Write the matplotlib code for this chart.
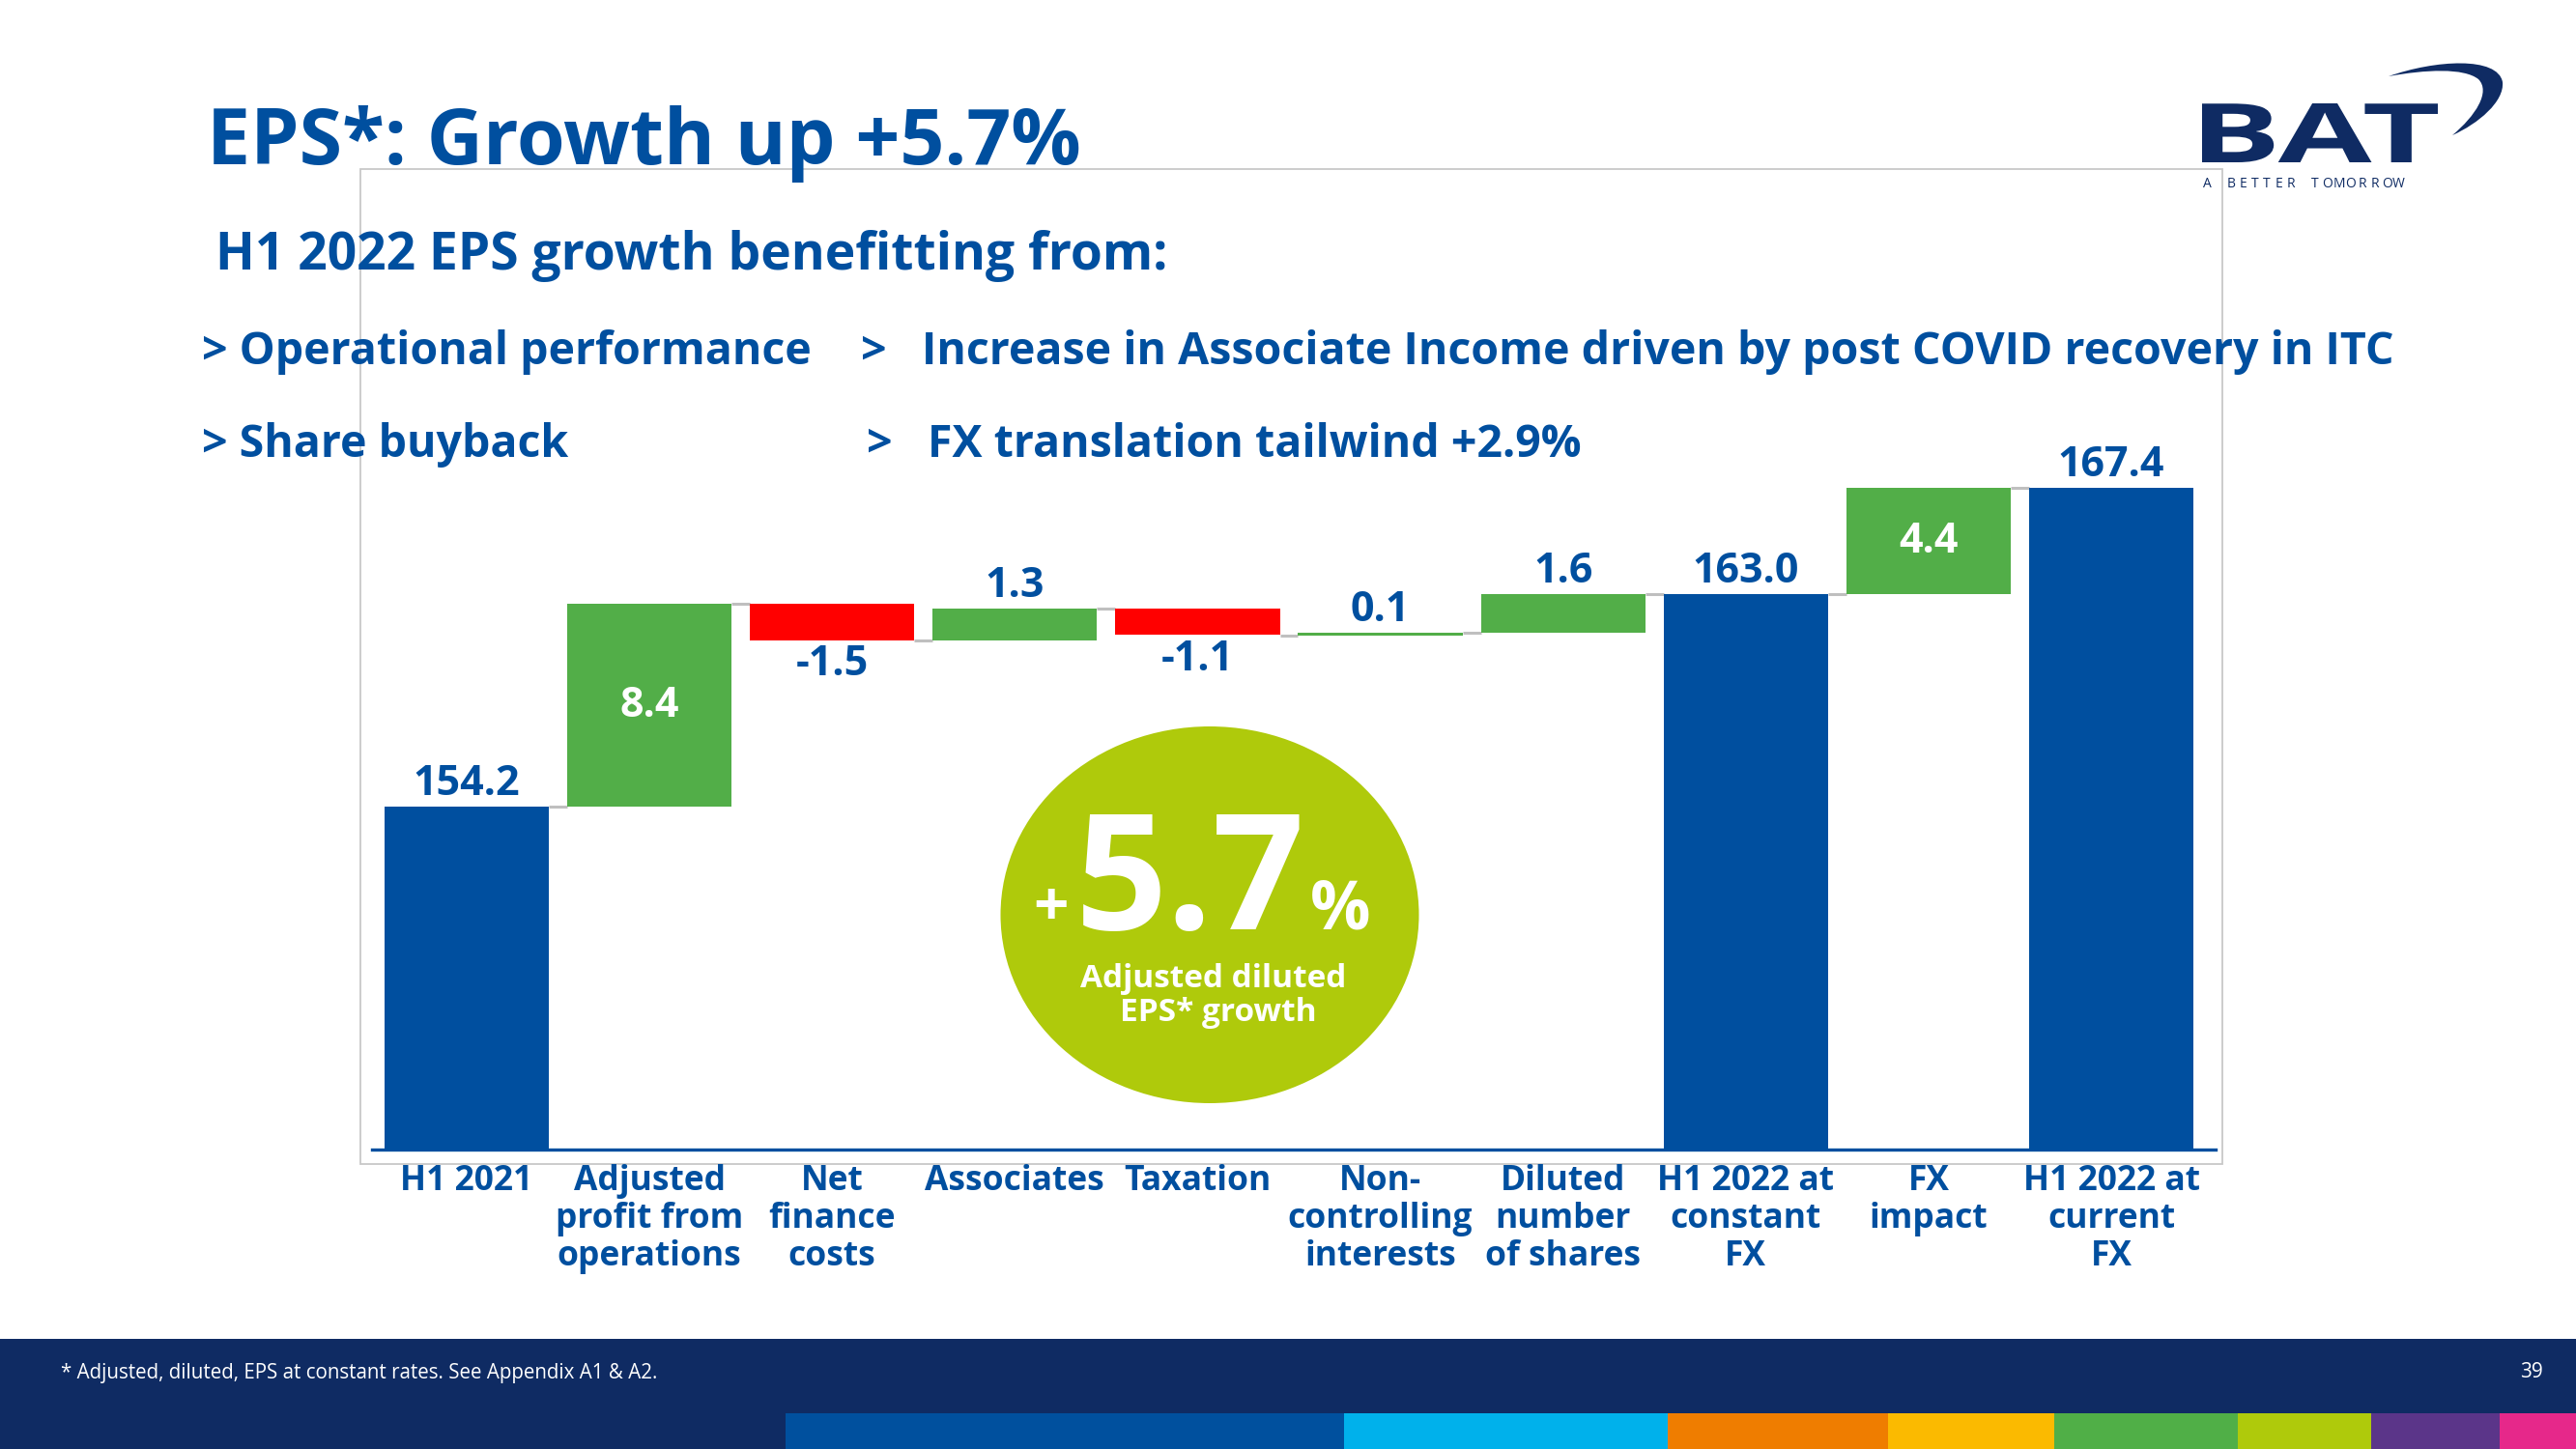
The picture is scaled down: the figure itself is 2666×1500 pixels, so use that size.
import matplotlib
matplotlib.use("Agg")
import matplotlib.pyplot as plt
from matplotlib.patches import Rectangle, Ellipse, PathPatch
from matplotlib.path import Path
from matplotlib.textpath import TextPath
from matplotlib.font_manager import FontProperties
from matplotlib.transforms import Affine2D

plt.rcParams['font.family'] = ['Open Sans', 'DejaVu Sans']

# chart data
categories = ["H1 2021", "Adjusted\nprofit from\noperations", "Net\nfinance\ncosts",
              "Associates", "Taxation", "Non-\ncontrolling\ninterests",
              "Diluted\nnumber\nof shares", "H1 2022 at\nconstant\nFX",
              "FX\nimpact", "H1 2022 at\ncurrent\nFX"]
values = [154.2, 8.4, -1.5, 1.3, -1.1, 0.1, 1.6, 163.0, 4.4, 167.4]
is_total = [True, False, False, False, False, False, False, True, False, True]
value_labels = ["154.2", "8.4", "-1.5", "1.3", "-1.1", "0.1", "1.6", "163.0", "4.4", "167.4"]

bullets_left = ["> Operational performance", "> Share buyback"]
bullets_right = ["Increase in Associate Income driven by post COVID recovery in ITC",
                 "FX translation tailwind +2.9%"]
stripe_colors = ["#00509E", "#00B1EB", "#EF7D00", "#FBBA00", "#50AF47", "#AFCA0B", "#5B3589", "#E6288A"]
stripe_edges = [813, 1391, 1726, 1954, 2126, 2316, 2454, 2587, 2666]

BLUE = "#004F9F"
GREEN = "#52AE48"
RED = "#FF0000"
NAVY = "#0F2B63"
LIME = "#AFCA0B"

fig = plt.figure(figsize=(26.66, 15), dpi=100)

# background layer in pixel coordinates (y downwards)
bg = fig.add_axes([0, 0, 1, 1], zorder=0)
bg.set_xlim(0, 2666)
bg.set_ylim(1500, 0)
bg.axis("off")

# grey chart frame
bg.add_patch(Rectangle((373, 175), 1927, 1030, fill=False, edgecolor="#C8C8C8", lw=1.3))

# footer band and colour stripes
bg.add_patch(Rectangle((0, 1386), 2666, 114, facecolor=NAVY, edgecolor="none"))
for i, c in enumerate(stripe_colors):
    bg.add_patch(Rectangle((stripe_edges[i], 1463), stripe_edges[i + 1] - stripe_edges[i], 37,
                           facecolor=c, edgecolor="none"))
bg.text(63, 1421, "* Adjusted, diluted, EPS at constant rates. See Appendix A1 & A2.",
        color="white", fontsize=14.8, va="center", ha="left")
bg.text(2620, 1421, "39", color="white", fontsize=15, va="center", ha="center")

# titles
bg.text(214, 170, "EPS*: Growth up +5.7%", color=BLUE, fontsize=58, weight="bold", va="baseline")
bg.text(223, 279, "H1 2022 EPS growth benefitting from:", color=BLUE, fontsize=38.4,
        weight="bold", va="baseline")
for i in range(2):
    y = 377 + i * 96
    bg.text(209, y, bullets_left[i], color=BLUE, fontsize=33.5, weight="bold", va="baseline")
    bg.text(891 + i * 6, y, ">", color=BLUE, fontsize=33.5, weight="bold", va="baseline")
    bg.text(954 + i * 6, y, bullets_right[i], color=BLUE, fontsize=33.5, weight="bold", va="baseline")

# BAT logo
tp = TextPath((0, 0), "BAT", size=100, prop=FontProperties(family="Open Sans", weight="bold"))
ext = tp.get_extents()
tr = Affine2D().translate(-ext.x0, -ext.y0).scale(244 / ext.width, -61 / ext.height).translate(2279, 168)
bg.add_patch(PathPatch(tr.transform_path(tp), facecolor=NAVY, edgecolor="none"))
swoosh = Path([(2472, 79), (2520, 62), (2585, 58), (2590, 85),
               (2592, 105), (2565, 128), (2538, 140),
               (2562, 120), (2578, 95), (2565, 82),
               (2550, 70), (2510, 72), (2472, 79)],
              [Path.MOVETO] + [Path.CURVE4] * 12)
bg.add_patch(PathPatch(swoosh, facecolor=NAVY, edgecolor="none"))
for i, ch in enumerate("A BETTER TOMORROW"):
    bg.text(2284 + i * 12.4, 190, ch, color=NAVY, fontsize=10, ha="center", va="center")

# growth bubble
bg.add_patch(Ellipse((1252, 947), 433, 390, facecolor=LIME, edgecolor="none"))
bg.text(1232, 962, "5.7", color="white", fontsize=120, weight="bold", ha="center", va="baseline")
bg.text(1106, 958, "+", color="white", fontsize=46, weight="bold", ha="right", va="baseline")
bg.text(1356, 962, "%", color="white", fontsize=50, weight="bold", ha="left", va="baseline")
bg.text(1256, 1022, "Adjusted diluted", color="white", fontsize=24, weight="bold",
        ha="center", va="baseline")
bg.text(1261, 1057, "EPS* growth", color="white", fontsize=24, weight="bold",
        ha="center", va="baseline")

# waterfall
ax = fig.add_axes([385 / 2666, 1 - 1190 / 1500, (2293 - 385) / 2666, (1190 - 175) / 1500], zorder=1)
ax.patch.set_alpha(0)

x = list(range(len(values)))
bottoms, heights, colors, ends = [], [], [], []
running = 0
for v, t in zip(values, is_total):
    if t:
        bottoms.append(0)
        heights.append(v)
        colors.append(BLUE)
        running = v
    else:
        bottoms.append(running)
        heights.append(v)
        colors.append(GREEN if v >= 0 else RED)
        running += v
    ends.append(running)

width = 0.9
ax.bar(x, heights, bottom=bottoms, width=width, color=colors, zorder=2)

# connectors between bars
for i in range(len(values) - 1):
    ax.hlines(ends[i], x[i] + width / 2, x[i + 1] - width / 2, color="#BFBFBF", lw=2.2, zorder=1)

for i, v in enumerate(values):
    if is_total[i]:
        ax.annotate(value_labels[i], (x[i], v), xytext=(0, 17), textcoords="offset points",
                    ha="center", va="center", color=BLUE, fontsize=31, weight="bold")
    elif abs(v) >= 3:
        ax.text(x[i], bottoms[i] + v / 2, value_labels[i], ha="center", va="center",
                color="white", fontsize=31, weight="bold")
    elif v >= 0:
        ax.annotate(value_labels[i], (x[i], ends[i]), xytext=(0, 17), textcoords="offset points",
                    ha="center", va="center", color=BLUE, fontsize=31, weight="bold")
    else:
        ax.annotate(value_labels[i], (x[i], ends[i]), xytext=(0, -18), textcoords="offset points",
                    ha="center", va="center", color=BLUE, fontsize=31, weight="bold")

ax.set_xlim(-0.518, 9.571)
ax.set_ylim(140, 140 + (1190 - 175) / 25)
for side in ["top", "left", "right"]:
    ax.spines[side].set_visible(False)
ax.spines["bottom"].set_color(BLUE)
ax.spines["bottom"].set_linewidth(2.4)
ax.set_yticks([])
ax.set_xticks(x)
ax.set_xticklabels(categories, color=BLUE, fontsize=25.5, weight="bold", linespacing=1.1, va="top")
ax.tick_params(axis="x", length=0, pad=11)

fig.savefig("out.png", dpi=100)
